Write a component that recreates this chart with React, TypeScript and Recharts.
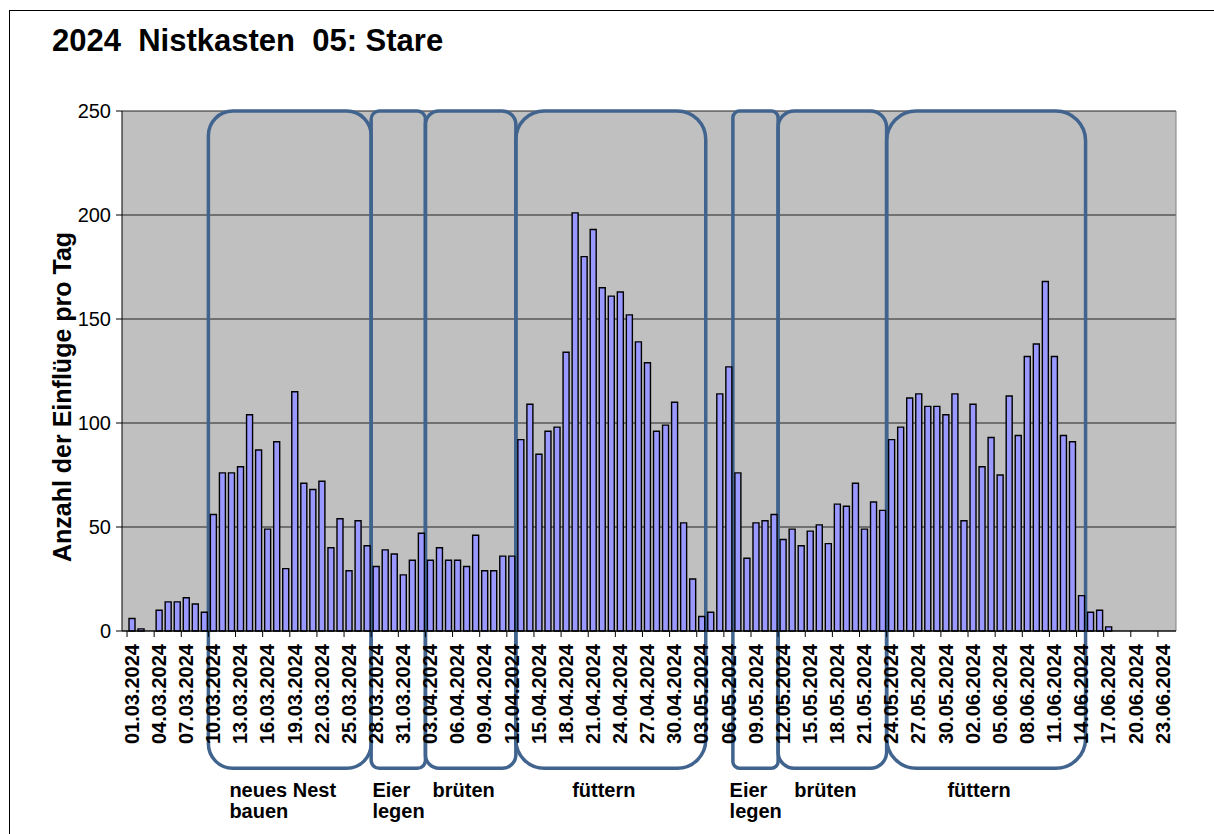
import React from 'react';
import { BarChart, Bar, XAxis, YAxis, CartesianGrid, ReferenceArea } from 'recharts';

const FONT = "'Liberation Sans', Arial, sans-serif";

// 01.03.2024 .. 24.06.2024, one category per day
const firstDay = Date.UTC(2024, 2, 1);
const dayCount = 116;
const dates: string[] = Array.from({ length: dayCount }, (_, i) => {
  const d = new Date(firstDay + i * 86400000);
  const dd = String(d.getUTCDate()).padStart(2, '0');
  const mm = String(d.getUTCMonth() + 1).padStart(2, '0');
  return `${dd}.${mm}.${d.getUTCFullYear()}`;
});

// Anzahl der Einflüge pro Tag
const flights = [
  6, 1, 0, 10, 14, 14, 16, 13, 9, 56,
  76, 76, 79, 104, 87, 49, 91, 30, 115, 71,
  68, 72, 40, 54, 29, 53, 41, 31, 39, 37,
  27, 34, 47, 34, 40, 34, 34, 31, 46, 29,
  29, 36, 36, 92, 109, 85, 96, 98, 134, 201,
  180, 193, 165, 161, 163, 152, 139, 129, 96, 99,
  110, 52, 25, 7, 9, 114, 127, 76, 35, 52,
  53, 56, 44, 49, 41, 48, 51, 42, 61, 60,
  71, 49, 62, 58, 92, 98, 112, 114, 108, 108,
  104, 114, 53, 109, 79, 93, 75, 113, 94, 132,
  138, 168, 132, 94, 91, 17, 9, 10, 2, 0,
  0, 0, 0, 0, 0, 0,
];

const yTicks = [0, 50, 100, 150, 200, 250];

// Brutphasen
const phaseStart = ['10.03.2024', '28.03.2024', '03.04.2024', '13.04.2024', '07.05.2024', '12.05.2024', '24.05.2024'];
const phaseEnd = ['27.03.2024', '02.04.2024', '12.04.2024', '03.05.2024', '11.05.2024', '23.05.2024', '14.06.2024'];
const phaseLabels = [
  ['neues Nest', 'bauen'],
  ['Eier', 'legen'],
  ['brüten'],
  ['füttern'],
  ['Eier', 'legen'],
  ['brüten'],
  ['füttern'],
];

const data = dates.map((date, i) => ({ date, flights: flights[i] }));

let ctx: CanvasRenderingContext2D | null = null;
function textWidth(s: string, size: number) {
  if (!ctx) ctx = document.createElement('canvas').getContext('2d');
  if (!ctx) return s.length * size * 0.55;
  ctx.font = `bold ${size}px ${FONT}`;
  return ctx.measureText(s).width;
}

function DateTick(props: any) {
  const { x, y, payload } = props;
  const half = 4.5;
  return (
    <g>
      <line x1={x - half} x2={x - half} y1={y} y2={y + 6} stroke="#000" strokeWidth={1} />
      <text
        transform={`translate(${x},${y + 13}) rotate(-90)`}
        textAnchor="end"
        dy="0.36em"
        fontSize={20}
        fontWeight="bold"
        fontFamily={FONT}
        fill="#000"
      >
        {payload.value}
      </text>
    </g>
  );
}

function YLabel(props: any) {
  const vb = props.viewBox;
  const cx = vb.x + vb.width / 2 + 1;
  const cy = vb.y + vb.height / 2 + 26;
  return (
    <text
      transform={`translate(${cx},${cy}) rotate(-90)`}
      textAnchor="middle"
      dy="0.35em"
      fontSize={25}
      fontWeight="bold"
      fontFamily={FONT}
      fill="#000"
    >
      Anzahl der Einflüge pro Tag
    </text>
  );
}

function PhaseBox(props: any) {
  const { x, y, width, height, lines } = props;
  const rx = Math.min(width * 0.15, 30);
  const cx = x + width / 2;
  const left = cx - textWidth(lines[0], 20) / 2 - 7;
  const bottom = y + height;
  return (
    <g>
      <rect x={x} y={y} width={width} height={height} rx={rx} ry={rx} fill="none" stroke="#41648f" strokeWidth={3.5} />
      {lines.map((t: string, i: number) => (
        <text key={i} x={left} y={bottom + 29 + i * 21} fontSize={20} fontWeight="bold" fontFamily={FONT} fill="#000">
          {t}
        </text>
      ))}
    </g>
  );
}

export default function App() {
  return (
    <div style={{ position: 'absolute', left: 0, top: 0, width: 1214, height: 834, background: '#fff', overflow: 'hidden' }}>
      <div
        style={{
          position: 'absolute',
          left: 9,
          top: 10,
          width: 1205,
          height: 824,
          borderTop: '1px solid #000',
          borderLeft: '1px solid #000',
          boxSizing: 'border-box',
        }}
      />
      <div
        style={{
          position: 'absolute',
          left: 52,
          top: 26,
          fontFamily: FONT,
          fontWeight: 'bold',
          fontSize: 31,
          lineHeight: '30px',
          whiteSpace: 'pre',
          color: '#000',
        }}
      >
        {'2024  Nistkasten  05: Stare'}
      </div>
      <div style={{ position: 'absolute', left: 0, top: 0 }}>
        <BarChart
          width={1214}
          height={834}
          data={data}
          margin={{ top: 111, right: 38, bottom: 60, left: 0 }}
          barCategoryGap={2}
        >
          <CartesianGrid vertical={false} stroke="#222" fill="#c0c0c0" />
          <CartesianGrid
            horizontal={false}
            stroke="#808080"
            verticalCoordinatesGenerator={({ offset }: any) => [offset.left + offset.width]}
          />
          <XAxis
            dataKey="date"
            interval={2}
            height={143}
            tick={<DateTick />}
            tickLine={false}
            tickSize={0}
            tickMargin={0}
            axisLine={{ stroke: '#000' }}
            padding={{ left: 5, right: 0 }}
          />
          <YAxis
            width={122}
            domain={[0, 250]}
            ticks={yTicks}
            interval={0}
            tickSize={6}
            tickMargin={5}
            axisLine={{ stroke: '#000' }}
            tickLine={{ stroke: '#000' }}
            tick={{ fontSize: 20, fill: '#000', fontFamily: FONT }}
            label={<YLabel />}
          />
          <Bar dataKey="flights" barSize={6} fill="#9999ff" stroke="#000" strokeWidth={1.4} isAnimationActive={false} />
          {phaseStart.map((s, k) => (
            <ReferenceArea
              key={k}
              x1={s}
              x2={phaseEnd[k]}
              y1={-66}
              y2={250}
              ifOverflow="visible"
              shape={(p: any) => <PhaseBox {...p} lines={phaseLabels[k]} />}
            />
          ))}
        </BarChart>
      </div>
    </div>
  );
}
